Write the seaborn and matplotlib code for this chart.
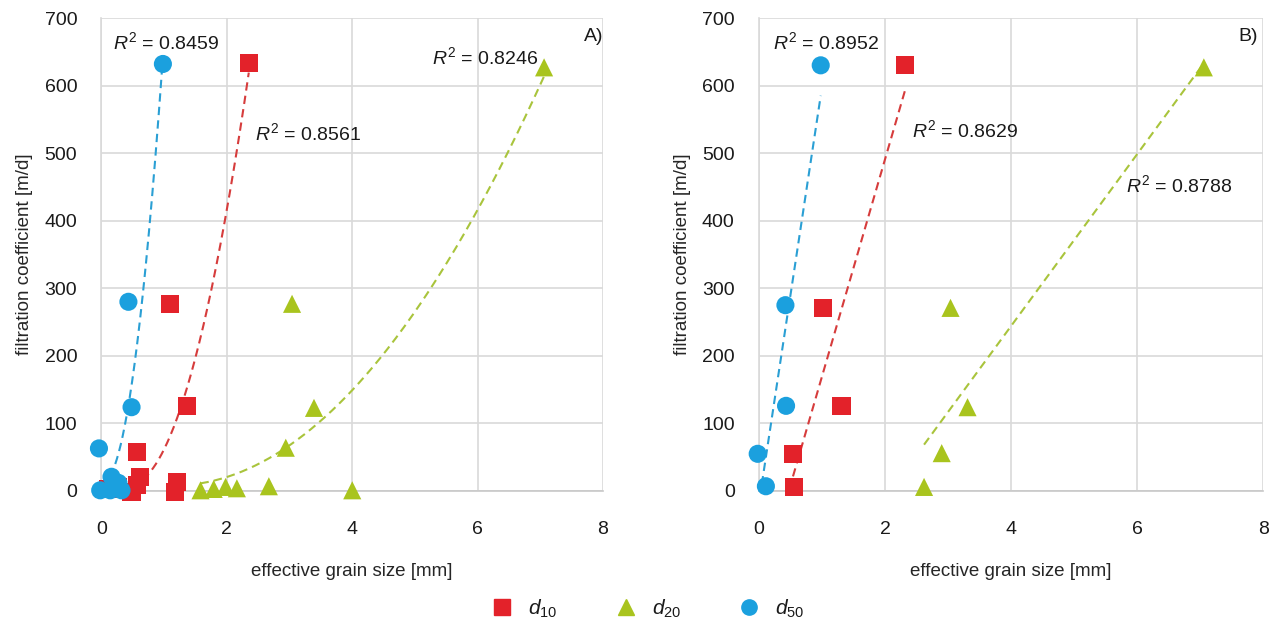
import numpy as np
import pandas as pd
import seaborn as sns
from matplotlib import pyplot as plt
from matplotlib.lines import Line2D

# Panel A) - all samples
a_d10_x = [2.35, 1.09, 1.36, 0.56, 0.62, 0.56, 1.20, 1.18, 0.48, 0.27, 0.10]
a_d10_y = [633, 277, 126, 58, 21, 9, 13, -1, -1, 6, 3]
a_d20_x = [7.06, 3.04, 3.39, 2.94, 2.67, 4.00, 1.58, 1.79, 1.98, 2.16]
a_d20_y = [627, 277, 123, 64, 7, 1, 1, 3, 6, 4]
a_d50_x = [0.98, 0.43, 0.48, -0.04, 0.16, -0.02, 0.14, 0.32, 0.27]
a_d50_y = [632, 280, 124, 63, 21, 1, 1, 1, 12]

# Panel B) - selected samples
b_d10_x = [2.32, 1.02, 1.31, 0.54, 0.56]
b_d10_y = [630, 271, 126, 55, 6]
b_d20_x = [7.06, 3.04, 3.31, 2.90, 2.62]
b_d20_y = [627, 271, 124, 56, 6]
b_d50_x = [0.98, 0.42, 0.43, -0.02, 0.11]
b_d50_y = [630, 275, 126, 55, 7]

series = ["d10", "d20", "d50"]
series_labels = ["$d_{10}$", "$d_{20}$", "$d_{50}$"]
r2_a = ["0.8561", "0.8246", "0.8459"]
r2_b = ["0.8629", "0.8788", "0.8952"]

colors = {"d10": "#e3222a", "d20": "#a9c41e", "d50": "#1ba0de"}
line_colors = {"d10": "#d63c3c", "d20": "#a9c43c", "d50": "#2a9fd4"}
markers = {"d10": "s", "d20": "^", "d50": "o"}


def make_frame(xs, ys) -> pd.DataFrame:
    """
    Stack the three grain size series into one long dataframe
    """
    parts = []
    for name, x, y in zip(series, xs, ys):
        parts.append(pd.DataFrame({"grain": x, "k": y, "size": name}))
    return pd.concat(parts, ignore_index=True)


def draw_panel(ax, df, degree, r2, r2_pos, tag, tag_x):
    """
    Scatter + excel-like trendline for one panel
    """
    sns.scatterplot(data=df, x="grain", y="k", hue="size", style="size",
                    palette=colors, markers=markers, s=170, linewidth=0,
                    legend=False, clip_on=False, zorder=3, ax=ax)

    for name, pos, val in zip(series, r2_pos, r2):
        sub = df[df["size"] == name]
        coef = np.polyfit(sub["grain"], sub["k"], degree)
        xx = np.linspace(sub["grain"].min(), sub["grain"].max(), 200)
        sns.lineplot(x=xx, y=np.polyval(coef, xx), color=line_colors[name],
                     linestyle=(0, (4, 2.5)), linewidth=1.5, ax=ax, zorder=2)
        ax.text(pos[0], pos[1], "$R^2$ = " + val, fontsize=14,
                ha="left", va="center")

    ax.text(tag_x, 0.96, tag, transform=ax.transAxes, fontsize=14,
            ha="right", va="center")

    ax.set_xlim(0, 8)
    ax.set_ylim(0, 700)
    ax.set_xticks(range(0, 9, 2))
    ax.set_yticks(range(0, 701, 100))
    ax.set_xlabel("effective grain size [mm]", fontsize=13.5, labelpad=18)
    ax.set_ylabel("filtration coefficient [m/d]", fontsize=13.5, labelpad=8)
    ax.tick_params(length=6.5, width=1.2, color="#d9d9d9", labelsize=14,
                   labelcolor="#1a1a1a")
    ax.tick_params(axis="x", pad=15)
    ax.tick_params(axis="y", pad=11)
    ax.grid(True, color="#d9d9d9", linewidth=1.2)
    for side in ["top", "right"]:
        ax.spines[side].set_visible(False)
    ax.spines["left"].set_color("#d9d9d9")
    ax.spines["bottom"].set_color("#c8c8c8")
    ax.spines["left"].set_linewidth(1.2)
    ax.spines["bottom"].set_linewidth(1.2)


sns.set_theme(style="white")
plt.rcParams["font.family"] = ["Liberation Sans", "DejaVu Sans"]
plt.rcParams["mathtext.fontset"] = "custom"
plt.rcParams["mathtext.rm"] = "Liberation Sans"
plt.rcParams["mathtext.it"] = "Liberation Sans:italic"
plt.rcParams["text.color"] = "#1a1a1a"

fig = plt.figure(figsize=(12.73, 6.26), dpi=100)
ax1 = fig.add_axes([0.0797, 0.2157, 0.394, 0.7555])
ax2 = fig.add_axes([0.5962, 0.2157, 0.396, 0.7555])

df_a = make_frame([a_d10_x, a_d20_x, a_d50_x], [a_d10_y, a_d20_y, a_d50_y])
df_b = make_frame([b_d10_x, b_d20_x, b_d50_x], [b_d10_y, b_d20_y, b_d50_y])

draw_panel(ax1, df_a, 2, r2_a, [(2.45, 530), (5.28, 642), (0.18, 664)], "A)", 1.0)
draw_panel(ax2, df_b, 1, r2_b, [(2.43, 534), (5.82, 452), (0.22, 664)], "B)", 0.99)

handles = [Line2D([], [], linestyle="none", marker=markers[n], color=colors[n],
                  markersize=11) for n in series]
fig.legend(handles, series_labels, loc="center", bbox_to_anchor=(0.507, 0.028),
           ncol=3, frameon=False, fontsize=15, columnspacing=2.5,
           handletextpad=0.5, handlelength=1.5)

fig.savefig("out.png", dpi=100)
